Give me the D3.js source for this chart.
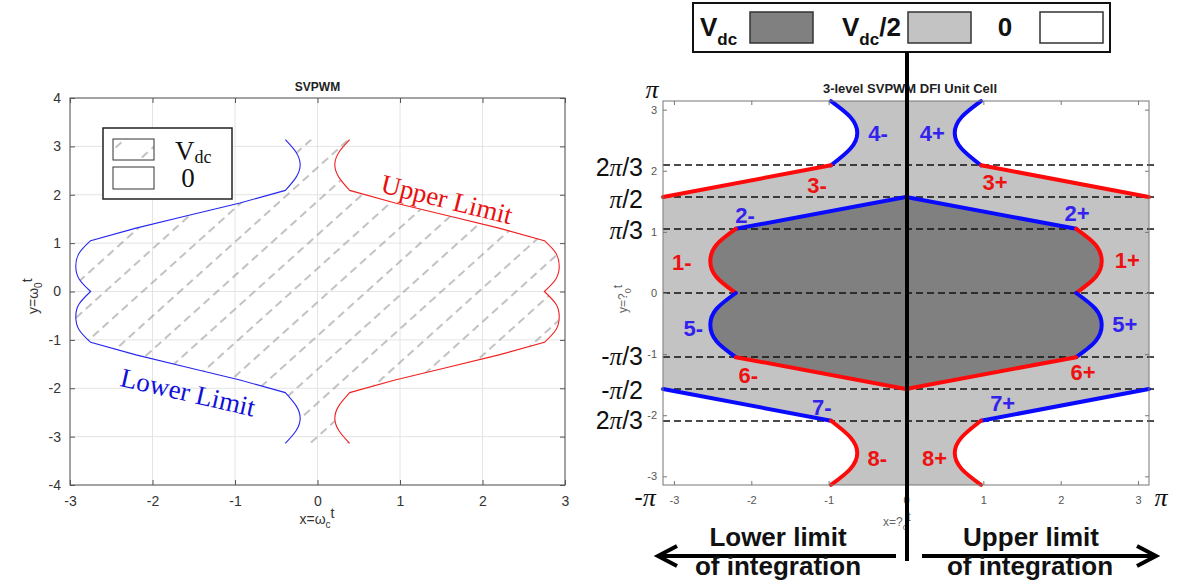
<!DOCTYPE html>
<html>
<head>
<meta charset="utf-8">
<script src="https://cdn.jsdelivr.net/npm/d3@7"></script>
<style>
body { margin: 0; background: #fff; }
svg { display: block; }
</style>
</head>
<body>
<div id="fig"></div>
<script>
// ---------- data: left panel (SVPWM limits) ----------
var leftY  = [3.14, 2.88, 2.62, 2.36, 2.09, 1.83, 1.57, 1.31, 1.05, 0.79, 0.52, 0.26, 0,
              -0.26, -0.52, -0.79, -1.05, -1.31, -1.57, -1.83, -2.09, -2.36, -2.62, -2.88, -3.14];
var lowerX = [-0.39, -0.26, -0.21, -0.26, -0.39, -0.94, -1.57, -2.20, -2.75, -2.89, -2.93, -2.89, -2.75,
              -2.89, -2.93, -2.89, -2.75, -2.20, -1.57, -0.94, -0.39, -0.26, -0.21, -0.26, -0.39];
var upperX = [0.39, 0.26, 0.21, 0.26, 0.39, 0.94, 1.57, 2.20, 2.75, 2.89, 2.93, 2.89, 2.75,
              2.89, 2.93, 2.89, 2.75, 2.20, 1.57, 0.94, 0.39, 0.26, 0.21, 0.26, 0.39];
var leftBreaks = [0, 4, 8, 12, 16, 20, 24];
var leftCurved = [true, false, true, true, false, true];
var leftTicksX = [-3, -2, -1, 0, 1, 2, 3];
var leftTicksY = [-4, -3, -2, -1, 0, 1, 2, 3, 4];

// ---------- data: right panel (3-level DFI unit cell) ----------
var seg4m = [[-0.97, 3.14], [-0.72, 2.88], [-0.63, 2.62], [-0.72, 2.36], [-0.97, 2.09]];
var seg3m = [[-0.97, 2.09], [-3.14, 1.57]];
var seg2m = [[-2.2, 1.05], [0, 1.57]];
var seg1m = [[-2.2, 1.05], [-2.45, 0.79], [-2.53, 0.52], [-2.45, 0.26], [-2.2, 0]];
var seg5m = [[-2.2, 0], [-2.45, -0.26], [-2.53, -0.52], [-2.45, -0.79], [-2.2, -1.05]];
var seg6m = [[-2.2, -1.05], [0, -1.57]];
var seg7m = [[-3.14, -1.57], [-0.97, -2.09]];
var seg8m = [[-0.97, -2.09], [-0.72, -2.36], [-0.63, -2.62], [-0.72, -2.88], [-0.97, -3.14]];
var seg4p = [[0.97, 3.14], [0.72, 2.88], [0.63, 2.62], [0.72, 2.36], [0.97, 2.09]];
var seg3p = [[0.97, 2.09], [3.14, 1.57]];
var seg2p = [[2.2, 1.05], [0, 1.57]];
var seg1p = [[2.2, 1.05], [2.45, 0.79], [2.53, 0.52], [2.45, 0.26], [2.2, 0]];
var seg5p = [[2.2, 0], [2.45, -0.26], [2.53, -0.52], [2.45, -0.79], [2.2, -1.05]];
var seg6p = [[2.2, -1.05], [0, -1.57]];
var seg7p = [[3.14, -1.57], [0.97, -2.09]];
var seg8p = [[0.97, -2.09], [0.72, -2.36], [0.63, -2.62], [0.72, -2.88], [0.97, -3.14]];
var cellLabels = ["4-", "3-", "2-", "1-", "5-", "6-", "7-", "8-", "4+", "3+", "2+", "1+", "5+", "6+", "7+", "8+"];
var levelY = [2.094, 1.571, 1.047, 0, -1.047, -1.571, -2.094];
var levelText = ["2π/3", "π/2", "π/3", "", "-π/3", "-π/2", "2π/3"];
var rightTicks = [-3, -2, -1, 0, 1, 2, 3];
var legendNames = ["Vdc", "Vdc/2", "0"];

var SANS = "Liberation Sans, Arial, sans-serif";
var SERIF = "Liberation Serif, Times New Roman, serif";

var W = 1183, H = 583;
var svg = d3.select("#fig").append("svg").attr("width", W).attr("height", H)
    .attr("font-family", SANS);
var defs = svg.append("defs");

// dashed diagonal hatch
defs.append("pattern")
    .attr("id", "hatch")
    .attr("patternUnits", "userSpaceOnUse")
    .attr("width", 13).attr("height", 25)
    .attr("patternTransform", "rotate(-42)")
  .append("line")
    .attr("x1", 0).attr("y1", 12).attr("x2", 8).attr("y2", 12)
    .attr("stroke", "#999").attr("stroke-width", 1.2);

var intFmt = d => String(d);

// ======================= LEFT PANEL =======================
var xL = d3.scaleLinear().domain([-3, 3]).range([70, 565]);
var yL = d3.scaleLinear().domain([-4, 4]).range([485, 98]);
var gL = svg.append("g");

// grid
gL.selectAll(".gx").data(leftTicksX).enter().append("line")
    .attr("x1", d => xL(d)).attr("x2", d => xL(d)).attr("y1", yL(-4)).attr("y2", yL(4))
    .attr("stroke", "#e4e4e4");
gL.selectAll(".gy").data(leftTicksY).enter().append("line")
    .attr("y1", d => yL(d)).attr("y2", d => yL(d)).attr("x1", xL(-3)).attr("x2", xL(3))
    .attr("stroke", "#e4e4e4");

function pathOf(pts, curved, sx, sy) {
    return d3.line().x(d => sx(d[0])).y(d => sy(d[1]))
        .curve(curved ? d3.curveNatural : d3.curveLinear)(pts);
}

// one limit as a list of [points, curved] pieces
function limitPieces(xs) {
    var out = [];
    for (var i = 0; i < leftBreaks.length - 1; i++) {
        var pts = [];
        for (var j = leftBreaks[i]; j <= leftBreaks[i + 1]; j++) pts.push([xs[j], leftY[j]]);
        out.push([pts, leftCurved[i]]);
    }
    return out;
}
function joinPieces(pieces, sx, sy) {
    return pieces.map(function(p, i) {
        var s = pathOf(p[0], p[1], sx, sy);
        return i == 0 ? s : s.replace(/^M/, "L");
    }).join("") + "Z";
}
function reversePieces(pieces) {
    return pieces.slice().reverse().map(p => [p[0].slice().reverse(), p[1]]);
}

var lowerPieces = limitPieces(lowerX);
var upperPieces = limitPieces(upperX);

// hatched V_dc region between the two limits
gL.append("path")
    .attr("d", joinPieces(lowerPieces.concat(reversePieces(upperPieces)), xL, yL))
    .attr("fill", "url(#hatch)");

// limit curves
[[lowerPieces, "#2626f0"], [upperPieces, "#f02020"]].forEach(function(c) {
    gL.append("path")
        .attr("d", joinPieces(c[0], xL, yL).replace(/Z$/, ""))
        .attr("fill", "none").attr("stroke", c[1]).attr("stroke-width", 1.1);
});

// frame + ticks
gL.append("rect").attr("x", xL(-3)).attr("y", yL(4))
    .attr("width", xL(3) - xL(-3)).attr("height", yL(-4) - yL(4))
    .attr("fill", "none").attr("stroke", "#555");

gL.append("g").attr("transform", "translate(0," + yL(-4) + ")")
    .call(d3.axisBottom(xL).tickValues(leftTicksX).tickFormat(intFmt).tickSizeInner(-5).tickSizeOuter(0).tickPadding(11));
gL.append("g").attr("transform", "translate(" + xL(-3) + ",0)")
    .call(d3.axisLeft(yL).tickValues(leftTicksY).tickFormat(intFmt).tickSizeInner(-5).tickSizeOuter(0).tickPadding(9));
gL.append("g").attr("transform", "translate(0," + yL(4) + ")")
    .call(d3.axisTop(xL).tickValues(leftTicksX).tickSizeInner(-5).tickSizeOuter(0).tickFormat(""));
gL.append("g").attr("transform", "translate(" + xL(3) + ",0)")
    .call(d3.axisRight(yL).tickValues(leftTicksY).tickSizeInner(-5).tickSizeOuter(0).tickFormat(""));
gL.selectAll(".domain").remove();
gL.selectAll(".tick line").attr("stroke", "#555");
gL.selectAll(".tick text").attr("fill", "#333").attr("font-size", 14).attr("font-family", SANS);

// title and axis labels
gL.append("text").attr("x", xL(0)).attr("y", 91).attr("text-anchor", "middle")
    .attr("font-size", 12).attr("font-weight", "bold").attr("fill", "#222").text("SVPWM");
var xlab = gL.append("text").attr("x", xL(0) - 18).attr("y", 524).attr("font-size", 14).attr("fill", "#333");
xlab.append("tspan").text("x=ω");
xlab.append("tspan").attr("font-size", 10).attr("dy", 4).text("c");
xlab.append("tspan").attr("dy", -10).text("t");
var ylab = gL.append("text").attr("transform", "translate(38,314) rotate(-90)").attr("font-size", 14).attr("fill", "#333");
ylab.append("tspan").text("y=ω");
ylab.append("tspan").attr("font-size", 10).attr("dy", 4).text("0");
ylab.append("tspan").attr("dy", -10).text("t");

// legend
var lg = gL.append("g");
lg.append("rect").attr("x", 103).attr("y", 128).attr("width", 129).attr("height", 71)
    .attr("fill", "#fff").attr("stroke", "#222").attr("stroke-width", 1.5);
lg.append("rect").attr("x", 113).attr("y", 139).attr("width", 41).attr("height", 21)
    .attr("fill", "url(#hatch)").attr("stroke", "#333");
lg.append("rect").attr("x", 113).attr("y", 167).attr("width", 41).attr("height", 22)
    .attr("fill", "#fff").attr("stroke", "#333");
var lv = lg.append("text").attr("x", 175).attr("y", 160).attr("font-family", SERIF)
    .attr("font-size", 27).attr("fill", "#111");
lv.append("tspan").text("V");
lv.append("tspan").attr("font-size", 18).attr("dy", 3).text("dc");
lg.append("text").attr("x", 188).attr("y", 187).attr("text-anchor", "middle")
    .attr("font-family", SERIF).attr("font-size", 27).attr("fill", "#111").text("0");

// curve annotations
gL.append("text").attr("transform", "translate(447,199) rotate(14)").attr("text-anchor", "middle").attr("dy", "0.35em")
    .attr("font-family", SERIF).attr("font-size", 27).attr("fill", "#e81010")
    .text("Upper Limit");
gL.append("text").attr("transform", "translate(188,392) rotate(13)").attr("text-anchor", "middle").attr("dy", "0.35em")
    .attr("font-family", SERIF).attr("font-size", 27).attr("fill", "#1010d8")
    .text("Lower Limit");

// ======================= RIGHT PANEL =======================
var xR = d3.scaleLinear().domain([-Math.PI, Math.PI]).range([663, 1149]);
var yR = d3.scaleLinear().domain([-Math.PI, Math.PI]).range([485, 101]);
var gR = svg.append("g");
var light = "#c3c3c3", dark = "#808080";

function rev(p) { return p.slice().reverse(); }
function joinSegs(list) {
    return list.map(function(p, i) {
        var s = pathOf(p, p.length > 2, xR, yR);
        return i == 0 ? s : s.replace(/^M/, "L");
    }).join("") + "Z";
}

// V_dc/2 region
gR.append("path")
    .attr("d", joinSegs([seg4m, seg3m, seg7m, seg8m, rev(seg8p), rev(seg7p), rev(seg3p), rev(seg4p)]))
    .attr("fill", light);
// V_dc region
gR.append("path")
    .attr("d", joinSegs([rev(seg2p), seg1p, seg5p, seg6p, rev(seg6m), rev(seg5m), rev(seg1m), seg2m]))
    .attr("fill", dark);

// dashed reference levels
gR.selectAll(".lvl").data(levelY).enter().append("line")
    .attr("x1", xR(-Math.PI)).attr("x2", 1154)
    .attr("y1", d => yR(d)).attr("y2", d => yR(d))
    .attr("stroke", "#111").attr("stroke-width", 1.6).attr("stroke-dasharray", "7,4");

// boundary segments
var segs = [seg4m, seg3m, seg2m, seg1m, seg5m, seg6m, seg7m, seg8m,
            seg4p, seg3p, seg2p, seg1p, seg5p, seg6p, seg7p, seg8p];
var blueNums = ["2", "4", "5", "7"];
function segColor(lbl, line) {
    var b = blueNums.indexOf(lbl[0]) >= 0;
    return line ? (b ? "#0a0aff" : "#ff0a0a") : (b ? "#3322ee" : "#ee1111");
}
gR.selectAll(".seg").data(segs).enter().append("path")
    .attr("d", d => pathOf(d, d.length > 2, xR, yR))
    .attr("fill", "none")
    .attr("stroke", (d, i) => segColor(cellLabels[i], true))
    .attr("stroke-width", 4).attr("stroke-linecap", "round");

// frame + ticks
gR.append("rect").attr("x", xR(-Math.PI)).attr("y", yR(Math.PI))
    .attr("width", xR(Math.PI) - xR(-Math.PI)).attr("height", yR(-Math.PI) - yR(Math.PI))
    .attr("fill", "none").attr("stroke", "#777");
gR.append("g").attr("transform", "translate(0," + yR(-Math.PI) + ")")
    .call(d3.axisBottom(xR).tickValues(rightTicks).tickFormat(intFmt).tickSizeInner(-4).tickSizeOuter(0).tickPadding(11));
gR.append("g").attr("transform", "translate(" + xR(-Math.PI) + ",0)")
    .call(d3.axisLeft(yR).tickValues(rightTicks).tickFormat(intFmt).tickSizeInner(-4).tickSizeOuter(0).tickPadding(6));
gR.append("g").attr("transform", "translate(0," + yR(Math.PI) + ")")
    .call(d3.axisTop(xR).tickValues(rightTicks).tickSizeInner(-4).tickSizeOuter(0).tickFormat(""));
gR.append("g").attr("transform", "translate(" + xR(Math.PI) + ",0)")
    .call(d3.axisRight(yR).tickValues(rightTicks).tickSizeInner(-4).tickSizeOuter(0).tickFormat(""));
gR.selectAll(".domain").remove();
gR.selectAll(".tick line").attr("stroke", "#777");
gR.selectAll(".tick text").attr("fill", "#555").attr("font-size", 11).attr("font-family", SANS);

// segment labels
var labelAt = {
    "4-": [-0.36, 2.62], "3-": [-1.15, 1.77], "2-": [-2.08, 1.28], "1-": [-2.9, 0.51],
    "5-": [-2.75, -0.57], "6-": [-2.04, -1.34], "7-": [-1.09, -1.87], "8-": [-0.37, -2.70],
    "4+": [0.34, 2.62], "3+": [1.15, 1.82], "2+": [2.21, 1.31], "1+": [2.86, 0.54],
    "5+": [2.83, -0.51], "6+": [2.29, -1.29], "7+": [1.25, -1.80], "8+": [0.37, -2.70]
};
gR.selectAll(".lbl").data(cellLabels).enter().append("text")
    .attr("x", d => xR(labelAt[d][0])).attr("y", d => yR(labelAt[d][1]))
    .attr("dy", "0.36em").attr("text-anchor", "middle")
    .attr("font-size", 22).attr("font-weight", "bold")
    .attr("fill", d => segColor(d, false))
    .text(d => d);

// pi-level labels on the left
function piText(sel, str) {
    str.split("π").forEach(function(part, i) {
        if (i > 0) sel.append("tspan").attr("font-family", SERIF)
            .attr("font-style", "italic").text("π");
        if (part) sel.append("tspan").text(part);
    });
}
var levelShift = [2, 3, 1, 0, 0, 1, 0];
levelY.forEach(function(v, i) {
    if (!levelText[i]) return;
    var t = gR.append("text").attr("x", 643).attr("y", yR(v) + levelShift[i])
        .attr("dy", "0.34em").attr("text-anchor", "end").attr("font-size", 25).attr("fill", "#111");
    piText(t, levelText[i]);
});
[["π", 652, 89], ["-π", 645, 497], ["π", 1161, 497]].forEach(function(p) {
    var t = gR.append("text").attr("x", p[1]).attr("y", p[2]).attr("dy", "0.34em")
        .attr("text-anchor", "middle").attr("font-size", 26).attr("fill", "#111");
    piText(t, p[0]);
});

// title and axis labels
gR.append("text").attr("x", 910).attr("y", 93).attr("text-anchor", "middle")
    .attr("font-size", 13).attr("font-weight", "bold").attr("fill", "#222")
    .text("3-level SVPWM DFI Unit Cell");
var rx = gR.append("text").attr("x", 883).attr("y", 526).attr("font-size", 12).attr("fill", "#666");
rx.append("tspan").text("x=?");
rx.append("tspan").attr("font-size", 9).attr("dy", 4).text("c");
rx.append("tspan").attr("dy", -9).text("t");
var ry = gR.append("text").attr("transform", "translate(627,313) rotate(-90)").attr("font-size", 12).attr("fill", "#666");
ry.append("tspan").text("y=?");
ry.append("tspan").attr("font-size", 9).attr("dy", 4).text("0");
ry.append("tspan").attr("dy", -9).text("t");

// top legend
var tl = svg.append("g");
tl.append("rect").attr("x", 693).attr("y", 3).attr("width", 417).attr("height", 49)
    .attr("fill", "#fff").attr("stroke", "#111").attr("stroke-width", 2);
var swX = [750, 908, 1040], swFill = [dark, light, "#fff"];
legendNames.forEach(function(n, i) {
    tl.append("rect").attr("x", swX[i]).attr("y", 12).attr("width", 63).attr("height", 31)
        .attr("fill", swFill[i]).attr("stroke", "#333").attr("stroke-width", 1.5);
});
var lx = [700, 842];
[0, 1].forEach(function(i) {
    var t = tl.append("text").attr("x", lx[i]).attr("y", 36).attr("font-size", 26).attr("font-weight", "bold").attr("fill", "#111");
    t.append("tspan").text("V");
    t.append("tspan").attr("font-size", 17).attr("dy", 9).text("dc");
    if (legendNames[i].indexOf("/") > 0) t.append("tspan").attr("dy", -9).text(legendNames[i].slice(3));
});
tl.append("text").attr("x", 1005).attr("y", 36).attr("text-anchor", "middle")
    .attr("font-size", 26).attr("font-weight", "bold").attr("fill", "#111").text(legendNames[2]);

// vertical divider
svg.append("line").attr("x1", 907).attr("x2", 907).attr("y1", 52).attr("y2", 561)
    .attr("stroke", "#000").attr("stroke-width", 4);

// integration-limit arrows
var ar = svg.append("g").attr("stroke", "#000").attr("stroke-width", 4).attr("fill", "none");
ar.append("line").attr("x1", 896).attr("x2", 658).attr("y1", 556).attr("y2", 556);
ar.append("polyline").attr("points", "677,546 658,556 677,566");
ar.append("line").attr("x1", 922).attr("x2", 1156).attr("y1", 556).attr("y2", 556);
ar.append("polyline").attr("points", "1137,546 1156,556 1137,566");
[["Lower limit", 778, 546], ["of integration", 778, 575], ["Upper limit", 1031, 546], ["of integration", 1030, 575]]
  .forEach(function(t) {
    svg.append("text").attr("x", t[1]).attr("y", t[2]).attr("text-anchor", "middle")
        .attr("font-size", 26).attr("font-weight", "bold").attr("fill", "#111").text(t[0]);
  });
</script>
</body>
</html>
